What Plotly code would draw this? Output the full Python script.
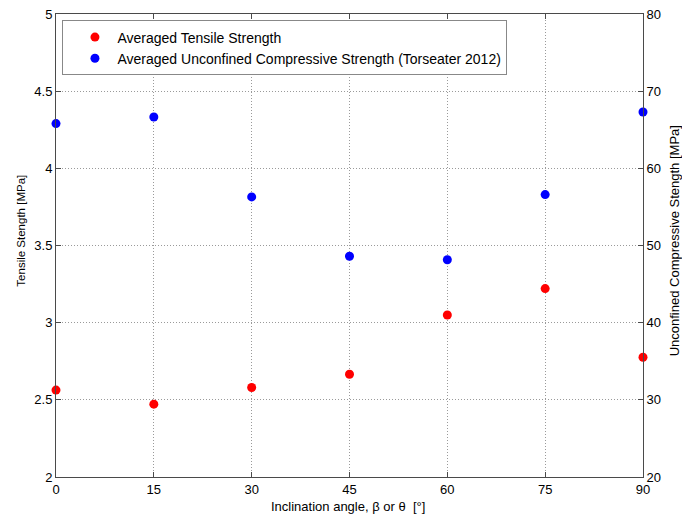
import plotly.graph_objects as go

angles = [0, 15, 30, 45, 60, 75, 90]
tensile = [2.563, 2.472, 2.580, 2.666, 3.050, 3.221, 2.776]
ucs = [65.8, 66.65, 56.3, 48.6, 48.15, 56.6, 67.3]

x_ticks = [0, 15, 30, 45, 60, 75, 90]
y1_ticks = [2, 2.5, 3, 3.5, 4, 4.5, 5]
y1_labels = ["2", "2.5", "3", "3.5", "4", "4.5", "5"]
y2_ticks = [20, 30, 40, 50, 60, 70, 80]

x_title = "Inclination angle, β or θ  [°]"
y1_title = "Tensile Stength [MPa]"
y2_title = "Unconfined Compressive Stength [MPa]"

FONT = "Liberation Sans, Arial, sans-serif"
AX = "#4a4a4a"
GRID = "#9a9a9a"
DOT = "1px,2px"

fig = go.Figure()
fig.add_trace(go.Scatter(
    x=angles, y=tensile, mode="markers", name="Averaged Tensile Strength",
    marker=dict(color="#ff0000", size=9), cliponaxis=False, yaxis="y"))
fig.add_trace(go.Scatter(
    x=angles, y=ucs, mode="markers",
    name="Averaged Unconfined Compressive Strength (Torseater 2012)",
    marker=dict(color="#0000ff", size=9), cliponaxis=False, yaxis="y2"))

fig.update_layout(
    width=682, height=521,
    margin=dict(l=56, r=39, t=14, b=44),
    paper_bgcolor="white", plot_bgcolor="white",
    font=dict(family=FONT, size=13, color="black"),
    showlegend=True,
    legend=dict(x=0.011, y=0.986, xanchor="left", yanchor="top",
                bgcolor="white", bordercolor="#888888", borderwidth=1,
                font=dict(size=14), itemwidth=35, indentation=9,
                tracegroupgap=0),
    xaxis=dict(range=[0, 90], tickvals=x_ticks, ticks="inside", ticklen=5,
               tickcolor=AX, showline=True, linecolor=AX, mirror="ticks",
               showgrid=True, gridcolor=GRID, griddash=DOT, zeroline=False,
               automargin=False, tickfont=dict(size=13)),
    yaxis=dict(range=[2, 5], tickvals=y1_ticks, ticktext=y1_labels, ticks="inside",
               ticklen=5, tickcolor=AX, showline=True, linecolor=AX,
               showgrid=True, gridcolor=GRID, griddash=DOT, zeroline=False,
               automargin=False, tickfont=dict(size=13)),
    yaxis2=dict(range=[20, 80], tickvals=y2_ticks, ticks="inside", ticklen=5,
                tickcolor=AX, showline=True, linecolor=AX, side="right",
                overlaying="y", anchor="x", showgrid=False, zeroline=False,
                automargin=False, tickfont=dict(size=13)),
    annotations=[
        dict(text=x_title, xref="paper", yref="paper", x=0.4975, y=0,
             xanchor="center", yanchor="middle", yshift=-29.5,
             showarrow=False, font=dict(size=13)),
        dict(text=y1_title, xref="paper", yref="paper", x=0, y=0.531,
             xanchor="center", yanchor="middle", xshift=-34.5, textangle=-90,
             showarrow=False, font=dict(size=11.5)),
        dict(text=y2_title, xref="paper", yref="paper", x=1, y=0.509,
             xanchor="center", yanchor="middle", xshift=31, textangle=-90,
             showarrow=False, font=dict(size=13)),
    ],
)

fig.write_html("out.html")
